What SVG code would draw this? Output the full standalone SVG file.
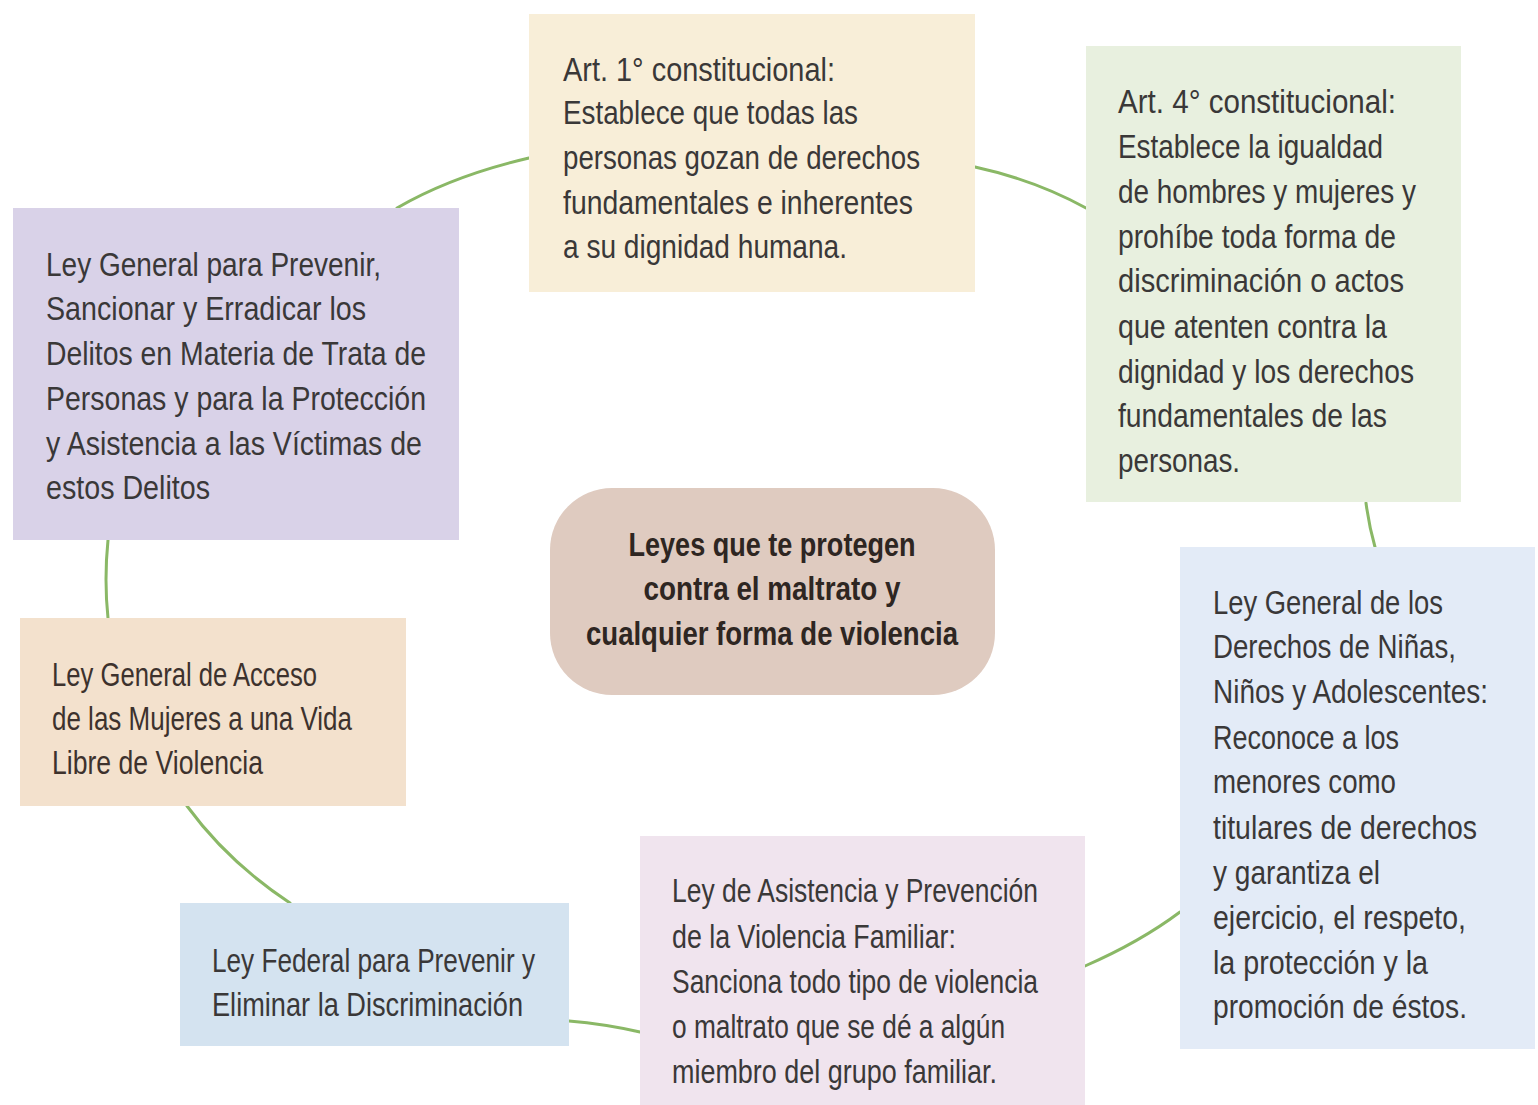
<svg xmlns="http://www.w3.org/2000/svg" width="1538" height="1105" viewBox="0 0 1538 1105">
<style>
  .t { font-family: "Liberation Sans Narrow", "Liberation Sans", Arial, sans-serif; font-size: 33px; fill: #3a3838; }
  .c { font-family: "Liberation Sans Narrow", "Liberation Sans", Arial, sans-serif; font-size: 33px; font-weight: bold; fill: #2e2622; }
  .b5 { fill: #3d322d; }
  .conn { fill: none; stroke: #8ab866; stroke-width: 3; stroke-linecap: round; }
</style>
<rect width="1538" height="1105" fill="#ffffff"/>
<g id="connectors">
  <path class="conn" d="M 397,208 Q 452,176 529,158"/>
  <path class="conn" d="M 975,167 Q 1035,180 1086,208"/>
  <path class="conn" d="M 1366,503 Q 1369,526 1375,547"/>
  <path class="conn" d="M 1085,966 Q 1140,942 1180,912"/>
  <path class="conn" d="M 569,1021 Q 605,1024 640,1032"/>
  <path class="conn" d="M 290,903 Q 228,862 187,806"/>
  <path class="conn" d="M 108,618 Q 104,580 108,540"/>
</g>
<g id="art1">
  <rect x="529" y="14" width="446" height="278" fill="#f8eed8"/>
  <text class="t"><tspan x="563" y="81" textLength="272" lengthAdjust="spacingAndGlyphs">Art. 1° constitucional:</tspan><tspan x="563" y="124" textLength="295" lengthAdjust="spacingAndGlyphs">Establece que todas las</tspan><tspan x="563" y="169" textLength="357" lengthAdjust="spacingAndGlyphs">personas gozan de derechos</tspan><tspan x="563" y="214" textLength="350" lengthAdjust="spacingAndGlyphs">fundamentales e inherentes</tspan><tspan x="563" y="258" textLength="284" lengthAdjust="spacingAndGlyphs">a su dignidad humana.</tspan></text>
</g>
<g id="art4">
  <rect x="1086" y="46" width="375" height="456" fill="#e8f0df"/>
  <text class="t"><tspan x="1118" y="113" textLength="278" lengthAdjust="spacingAndGlyphs">Art. 4° constitucional:</tspan><tspan x="1118" y="158" textLength="265" lengthAdjust="spacingAndGlyphs">Establece la igualdad</tspan><tspan x="1118" y="203" textLength="298" lengthAdjust="spacingAndGlyphs">de hombres y mujeres y</tspan><tspan x="1118" y="248" textLength="278" lengthAdjust="spacingAndGlyphs">prohíbe toda forma de</tspan><tspan x="1118" y="292" textLength="286" lengthAdjust="spacingAndGlyphs">discriminación o actos</tspan><tspan x="1118" y="338" textLength="269" lengthAdjust="spacingAndGlyphs">que atenten contra la</tspan><tspan x="1118" y="383" textLength="296" lengthAdjust="spacingAndGlyphs">dignidad y los derechos</tspan><tspan x="1118" y="427" textLength="269" lengthAdjust="spacingAndGlyphs">fundamentales de las</tspan><tspan x="1118" y="472" textLength="122" lengthAdjust="spacingAndGlyphs">personas.</tspan></text>
</g>
<g id="trata">
  <rect x="13" y="208" width="446" height="332" fill="#d9d2e8"/>
  <text class="t"><tspan x="46" y="276" textLength="335" lengthAdjust="spacingAndGlyphs">Ley General para Prevenir,</tspan><tspan x="46" y="320" textLength="320" lengthAdjust="spacingAndGlyphs">Sancionar y Erradicar los</tspan><tspan x="46" y="365" textLength="380" lengthAdjust="spacingAndGlyphs">Delitos en Materia de Trata de</tspan><tspan x="46" y="410" textLength="380" lengthAdjust="spacingAndGlyphs">Personas y para la Protección</tspan><tspan x="46" y="455" textLength="376" lengthAdjust="spacingAndGlyphs">y Asistencia a las Víctimas de</tspan><tspan x="46" y="499" textLength="164" lengthAdjust="spacingAndGlyphs">estos Delitos</tspan></text>
</g>
<g id="centro">
  <rect x="550" y="488" width="445" height="207" rx="62" ry="62" fill="#dfcbc0"/>
  <text class="c" text-anchor="middle"><tspan x="772" y="556" textLength="287" lengthAdjust="spacingAndGlyphs">Leyes que te protegen</tspan><tspan x="772" y="600" textLength="257" lengthAdjust="spacingAndGlyphs">contra el maltrato y</tspan><tspan x="772" y="645" textLength="372" lengthAdjust="spacingAndGlyphs">cualquier forma de violencia</tspan></text>
</g>
<g id="mujeres">
  <rect x="20" y="618" width="386" height="188" fill="#f3e1cd"/>
  <text class="t b5"><tspan x="52" y="686" textLength="265" lengthAdjust="spacingAndGlyphs">Ley General de Acceso</tspan><tspan x="52" y="730" textLength="300" lengthAdjust="spacingAndGlyphs">de las Mujeres a una Vida</tspan><tspan x="52" y="774" textLength="211" lengthAdjust="spacingAndGlyphs">Libre de Violencia</tspan></text>
</g>
<g id="discriminacion">
  <rect x="180" y="903" width="389" height="143" fill="#d4e3f0"/>
  <text class="t"><tspan x="212" y="972" textLength="323" lengthAdjust="spacingAndGlyphs">Ley Federal para Prevenir y</tspan><tspan x="212" y="1016" textLength="311" lengthAdjust="spacingAndGlyphs">Eliminar la Discriminación</tspan></text>
</g>
<g id="familiar">
  <rect x="640" y="836" width="445" height="269" fill="#f0e4ee"/>
  <text class="t"><tspan x="672" y="902" textLength="366" lengthAdjust="spacingAndGlyphs">Ley de Asistencia y Prevención</tspan><tspan x="672" y="948" textLength="284" lengthAdjust="spacingAndGlyphs">de la Violencia Familiar:</tspan><tspan x="672" y="993" textLength="366" lengthAdjust="spacingAndGlyphs">Sanciona todo tipo de violencia</tspan><tspan x="672" y="1038" textLength="333" lengthAdjust="spacingAndGlyphs">o maltrato que se dé a algún</tspan><tspan x="672" y="1083" textLength="325" lengthAdjust="spacingAndGlyphs">miembro del grupo familiar.</tspan></text>
</g>
<g id="ninos">
  <rect x="1180" y="547" width="355" height="502" fill="#e3ebf7"/>
  <text class="t"><tspan x="1213" y="614" textLength="230" lengthAdjust="spacingAndGlyphs">Ley General de los</tspan><tspan x="1213" y="658" textLength="243" lengthAdjust="spacingAndGlyphs">Derechos de Niñas,</tspan><tspan x="1213" y="703" textLength="275" lengthAdjust="spacingAndGlyphs">Niños y Adolescentes:</tspan><tspan x="1213" y="749" textLength="186" lengthAdjust="spacingAndGlyphs">Reconoce a los</tspan><tspan x="1213" y="793" textLength="183" lengthAdjust="spacingAndGlyphs">menores como</tspan><tspan x="1213" y="839" textLength="264" lengthAdjust="spacingAndGlyphs">titulares de derechos</tspan><tspan x="1213" y="884" textLength="167" lengthAdjust="spacingAndGlyphs">y garantiza el</tspan><tspan x="1213" y="929" textLength="253" lengthAdjust="spacingAndGlyphs">ejercicio, el respeto,</tspan><tspan x="1213" y="974" textLength="215" lengthAdjust="spacingAndGlyphs">la protección y la</tspan><tspan x="1213" y="1018" textLength="254" lengthAdjust="spacingAndGlyphs">promoción de éstos.</tspan></text>
</g>
</svg>
